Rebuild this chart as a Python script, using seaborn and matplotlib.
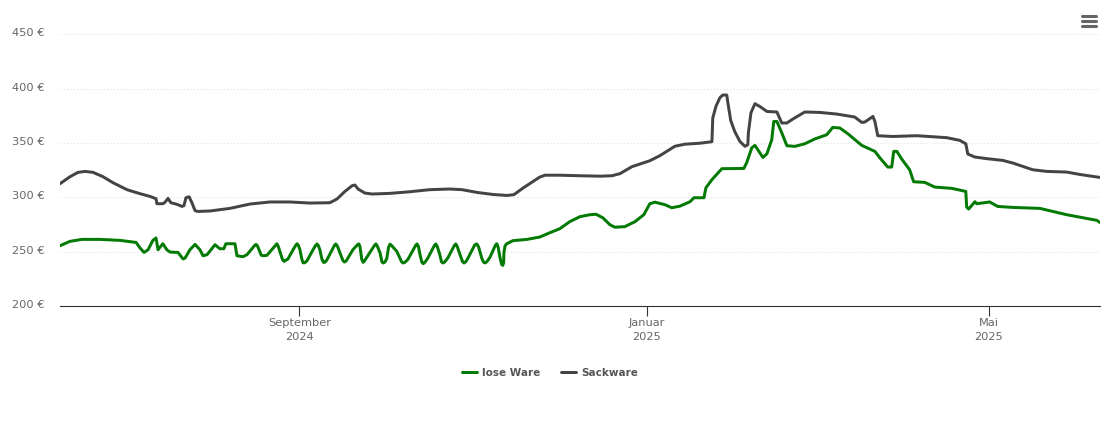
import pandas as pd
import matplotlib.pyplot as plt
from matplotlib.lines import Line2D
from matplotlib.transforms import ScaledTranslation
import seaborn as sns

start = pd.Timestamp('2024-06-09')
end = pd.Timestamp('2025-06-09')

# days since start / price in euro
lose_days = [0, 3.5, 7.7, 14, 21.1, 26.7, 28.1, 29.5, 30.9, 32.6, 33.7, 34.4, 36.1, 37.5, 38.6, 41.4, 43.2, 43.9,
             45.6, 47.4, 49.1, 50.2, 51.6, 54.4, 56.1, 57.5, 58.2, 61.4, 62.1, 64.2, 65.6, 68.3, 68.8, 69.3, 70.6,
             71.2, 72.6, 75.6, 76.1, 76.6, 77.9, 78.2, 78.6, 80, 81.8,
             82.7, 83.2, 83.7, 84.2, 84.9, 85.3, 85.9, 86.7, 88.8, 89.7, 90.2, 90.7, 91.2, 91.9, 92.5, 93.1, 93.7,
             96.3, 96.8, 97.4, 98.4, 99.3, 99.8, 100.4, 102.8, 104.4, 104.9, 105.3, 105.9, 106.4, 107, 110.4, 110.9,
             111.4, 112.3, 113, 113.5, 114.1, 114.7, 115.3, 115.8, 116.3, 118.2, 119.9, 120.4, 121, 122.1, 124.8,
             125.3, 125.8, 126.3, 127, 127.5, 128.1, 129.1, 131.4, 131.9, 132.4, 133.3, 133.9, 134.4, 135, 136.1,
             138.4, 138.9, 139.4, 140.4, 141.3, 141.8, 142.4, 143.2, 145.6, 146.3, 146.9, 148.1, 148.7, 149.3, 150,
             150.9, 152.8, 153.3, 153.8, 154.4, 155, 155.4, 155.7, 155.8, 156.2, 156.8,
             158.9, 163.9, 168.4, 171.9, 175.4, 178.9, 182.5, 186, 188.1, 190.5,
             193, 194.7, 198.2, 201.8, 204.9, 207, 208.8, 212.3, 214.7, 217.5, 221.1, 222.5, 226, 226.7, 228.8,
             232.3, 240, 241, 242.8, 243.9, 244.9, 246.7, 248.1, 249.8, 250.5, 251.6, 253.3, 255.1, 257.9, 261.4,
             264.9, 269.1, 271.2, 273.7, 276.5, 281.4, 286, 287.7, 290.5, 291.9, 292.6, 293.7, 295.4, 298.2, 299.6,
             303.5, 307, 313, 317.9, 318.2, 318.9, 321.1, 321.8, 326.3, 329.1, 334.4, 343.9, 353.3, 363.9, 364.9]
lose_price = [255.6, 259.6, 261.4, 261.4, 260.5, 258.6, 253.5, 249.4, 251.9, 260.5, 262.7, 251.9, 257.4, 251.9, 249.8,
              249.4, 243.4, 244.3, 251.9, 256.8, 251.9, 246.4, 247.3, 256.5, 252.8, 252.8, 257.4, 257.4, 246.4, 245.5,
              247.3, 255.8, 256.8, 255.5, 247, 246.4, 246.7, 256, 257.4, 255, 244.3, 242.5, 241.2, 243.4, 251.9,
              255.8, 257.4, 255.8, 251.9, 243, 239.9, 239.9, 241.8, 251.9, 255.8, 257.2, 255.6, 251.9, 243.5, 240.2,
              240.6, 242.7, 255.8, 257.2, 255, 248, 242, 240.6, 241.5, 251.9, 256.5, 257.2, 254.5, 243, 240.3, 242.2,
              256, 257.2, 255, 249.2, 240.6, 239.7, 240.8, 244, 254, 257, 256, 250.4, 240.8, 239.7, 240.2, 243, 255.8,
              257.2, 255, 248, 240.4, 239.1, 240.4, 244.3, 255.8, 257.2, 255, 247.3, 240.8, 239.7, 240.6, 244.3,
              255.8, 257.2, 255, 247.3, 240.8, 239.7, 240.8, 244.3, 256.5, 257.2, 254.5, 243.5, 240.3, 239.8, 241.5,
              245, 256, 257.4, 254, 245, 238.4, 237.5, 240, 249.2, 255.5, 257.4,
              260.2, 261.4, 263.6, 267.5, 271.2, 277.7, 282.3, 284.1, 284.5, 281.3,
              274.9, 272.6, 273.1, 277.7, 284.1, 294.2, 295.6, 293.3, 290.5, 291.9, 296, 299.7, 299.7, 308.9, 316.3,
              326.4, 326.6, 331.9, 345.7, 347.8, 343.8, 336.7, 340.1, 353, 369.8, 369.8, 359.4, 347.5, 346.9, 349.3,
              353.7, 357.6, 364.3, 363.8, 358.5, 347.8, 342.3, 336.5, 327.9, 327.9, 342.3, 342.3, 335.3, 325.4, 314.4,
              313.8, 309.5, 308.3, 305.5, 291.2, 289.3, 296, 294.2, 295.8, 291.7, 290.8, 289.9, 284.1, 278.9, 277]

sack_days = [0, 3.5, 6.3, 8.8, 11.6, 15.1, 18.6, 23.5, 28.1, 31.6, 33.7, 34, 36.1, 36.8, 37.9, 38.9, 41.1, 42.8, 43.5,
             44.2, 45.3, 46.3, 47.4, 48.4, 52.6, 59.6, 66.7, 73.7, 80.7, 87.7, 94.7, 97.2, 100, 102.5, 103.5, 104.6,
             107, 109.5, 115.8, 122.8, 129.8, 136.8, 141.1, 146.3, 151.9, 156.8, 159.3, 162.5, 168.4, 170.2, 175.4,
             182.5, 189.5, 193.7, 196.5, 200.7, 207, 210.5, 215.8, 219.3, 224.6, 228.8, 229.1, 230.2, 231.6, 232.6,
             234, 234.4, 235.4, 236.8, 238.6, 240.4, 241.4, 241.6, 242.5, 243.9, 245.6, 248.1, 251.6, 252.3, 253.3,
             255.1, 257.2, 261.4, 266.7, 272.6, 278.9, 281.4, 282.5, 285.3, 286, 287, 292.3, 300.7, 311.2, 315.8,
             317.9, 318.6, 321.1, 325.3, 330.9, 334.4, 341.4, 346.3, 353.3, 357.9, 362.5, 364.9]
sack_price = [312.6, 319, 323, 323.9, 323, 319, 313.5, 307.1, 303.4, 300.9, 298.8, 294.2, 294.2, 295.4, 299.1, 295.1,
              293.6, 291.7, 292.4, 299.7, 300.6, 295.1, 287.8, 287.1, 287.5, 289.9, 293.9, 295.8, 295.8, 294.8, 295.1,
              298.5, 305.5, 310.7, 311.4, 307.7, 304, 303.1, 303.7, 305.2, 307.1, 307.7, 307.1, 304.6, 302.7, 301.8,
              302.5, 308.6, 318.7, 320.4, 320.4, 319.9, 319.5, 319.9, 321.8, 328.2, 333.7, 338.3, 347, 348.9, 349.8,
              351.2, 373, 383.6, 391.6, 394.1, 394.1, 387, 370.7, 360.6, 351.5, 346.9, 348.4, 359.4, 377.8, 386.1,
              383.6, 379, 378.5, 374.4, 368.4, 368.4, 372, 378.5, 378.1, 376.6, 373.9, 368.9, 369.3, 374.4, 369.8,
              356.7, 356, 356.7, 354.9, 352.4, 349.3, 339.9, 337.1, 335.6, 334, 331.6, 325.4, 323.9, 323.3, 321.1,
              319.3, 318.4]

y_ticks = [200, 250, 300, 350, 400, 450]
x_ticks = ['2024-09-01', '2025-01-01', '2025-05-01']
x_labels = ['September\n2024', 'Januar\n2025', 'Mai\n2025']
names = ['lose Ware', 'Sackware']
colors = ['#037a03', '#444444']

df = pd.concat([
    pd.DataFrame({'date': start + pd.to_timedelta(lose_days, unit='D'), 'price': lose_price, 'sorte': names[0]}),
    pd.DataFrame({'date': start + pd.to_timedelta(sack_days, unit='D'), 'price': sack_price, 'sorte': names[1]}),
])

sns.set_style('white')
plt.rcParams['font.family'] = ['DejaVu Sans']

fig = plt.figure(figsize=(11.1, 4.23), dpi=100)
ax = fig.add_axes([60 / 1110, 1 - 306.2 / 423, 1040 / 1110, 272 / 423])

sns.lineplot(data=df, x='date', y='price', hue='sorte', palette=colors, estimator=None, sort=False,
             linewidth=2.15, solid_joinstyle='round', solid_capstyle='round', ax=ax)

ax.set_xlim(start, end)
ax.set_ylim(200, 450)
ax.set_xlabel('')
ax.set_ylabel('')
sns.despine(ax=ax, left=True)
ax.spines['bottom'].set_color('#333333')
ax.spines['bottom'].set_linewidth(0.8)

ax.set_yticks(y_ticks)
ax.set_yticklabels([f'{v} €' for v in y_ticks])
ax.tick_params(axis='y', length=0, pad=11, labelsize=8.2, labelcolor='#666666')
for lab in ax.get_yticklabels():
    lab.set_transform(lab.get_transform() + ScaledTranslation(0, 1.5 / 72, fig.dpi_scale_trans))
ax.yaxis.grid(True, color='#e2e2e2', linewidth=0.8, linestyle=(0, (1, 2)))
ax.set_axisbelow(True)

ax.set_xticks(pd.to_datetime(x_ticks))
ax.set_xticklabels(x_labels, linespacing=1.6)
ax.tick_params(axis='x', bottom=True, length=7.2, width=0.8, color='#333333', pad=1,
               labelsize=8.2, labelcolor='#666666')

handles, labels = ax.get_legend_handles_labels()
fig.legend(handles, labels, loc='center', bbox_to_anchor=(550 / 1110, 1 - 373 / 423), ncol=2, frameon=False,
           prop={'size': 7.5, 'weight': 'bold'}, labelcolor='#555555', handlelength=1.45, handletextpad=0.5,
           columnspacing=2.0)
ax.get_legend().remove()

# menu icon, top right
for y in [16.5, 21.5, 26.5]:
    fig.add_artist(Line2D([1082 / 1110, 1096 / 1110], [1 - y / 423, 1 - y / 423], color='#666666', linewidth=2.2,
                          solid_capstyle='round'))

fig.savefig('out.png', dpi=100)
